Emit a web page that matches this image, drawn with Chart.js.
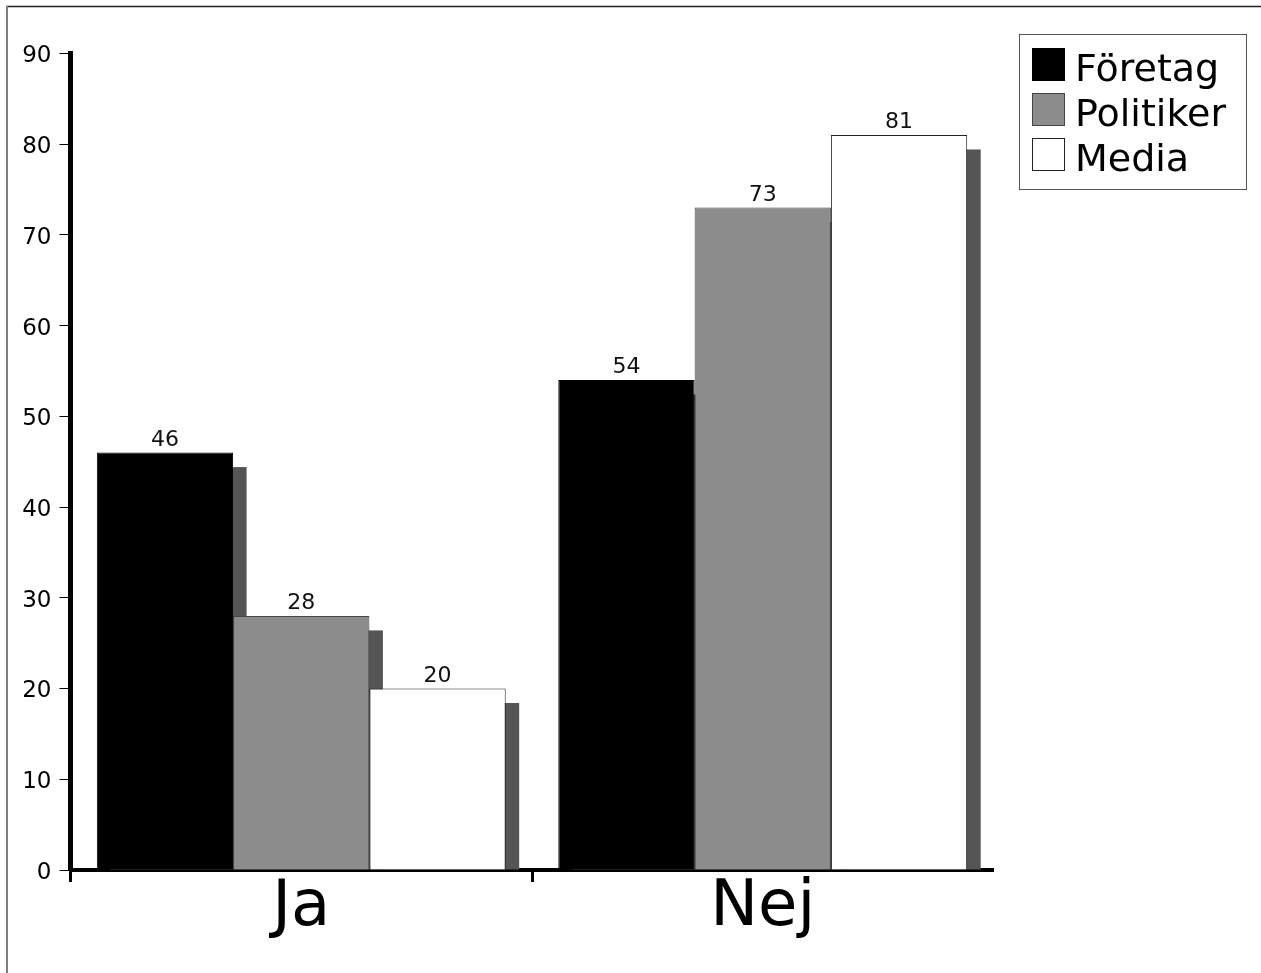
<!DOCTYPE html>
<html>
<head>
<meta charset="utf-8">
<script src="https://cdn.jsdelivr.net/npm/chart.js@4/dist/chart.umd.min.js"></script>
<style>
  html, body { margin: 0; padding: 0; background: #ffffff; overflow: hidden; }
  #wrap { position: relative; width: 1261px; height: 973px; }
  canvas { display: block; }
</style>
</head>
<body>
<div id="wrap"><canvas id="c" width="1261" height="973"></canvas></div>
<script>
// ---- data ----
const categories = ['Ja', 'Nej'];
const seriesNames = ['Företag', 'Politiker', 'Media'];
const foretagValues = [46, 54];
const politikerValues = [28, 73];
const mediaValues = [20, 81];
const yTickValues = [0, 10, 20, 30, 40, 50, 60, 70, 80, 90];

// ---- styles ----
const FONT = "'DejaVu Sans', 'Liberation Sans', sans-serif";
const fills = ['#000000', '#8c8c8c', '#ffffff'];
const borders = ['#000000', '#444444', '#222222'];
const SHADOW = '#555555';

const seriesValues = [foretagValues, politikerValues, mediaValues];

const shadowPlugin = {
  id: 'barShadow',
  beforeDatasetsDraw(chart) {
    const ctx = chart.ctx;
    ctx.save();
    ctx.fillStyle = SHADOW;
    chart.data.datasets.forEach((ds, di) => {
      const meta = chart.getDatasetMeta(di);
      meta.data.forEach(el => {
        const p = el.getProps(['x', 'y', 'base', 'width'], true);
        const dx = 13.5, dy = 14.5;
        const h = p.base - p.y - dy;
        if (h > 0) ctx.fillRect(p.x - p.width / 2 + dx, p.y + dy, p.width, h);
      });
    });
    ctx.restore();
  }
};

const valueLabelPlugin = {
  id: 'valueLabels',
  afterDatasetsDraw(chart) {
    const ctx = chart.ctx;
    ctx.save();
    ctx.font = '22px ' + FONT;
    ctx.fillStyle = '#111111';
    ctx.textAlign = 'center';
    ctx.textBaseline = 'alphabetic';
    chart.data.datasets.forEach((ds, di) => {
      const meta = chart.getDatasetMeta(di);
      meta.data.forEach((el, i) => {
        const p = el.getProps(['x', 'y'], true);
        ctx.fillText(String(ds.data[i]), p.x, p.y - 7);
      });
    });
    ctx.restore();
  }
};

const framePlugin = {
  id: 'frameAndLegend',
  afterDraw(chart) {
    const ctx = chart.ctx;
    ctx.save();
    // outer frame (top + left)
    ctx.strokeStyle = '#222222';
    ctx.lineWidth = 1.5;
    ctx.beginPath();
    ctx.moveTo(6, 6.5);
    ctx.lineTo(1261, 6.5);
    ctx.stroke();
    ctx.strokeStyle = '#808080';
    ctx.lineWidth = 2;
    ctx.beginPath();
    ctx.moveTo(7, 6);
    ctx.lineTo(7, 973);
    ctx.stroke();

    // legend box
    ctx.strokeStyle = '#555555';
    ctx.lineWidth = 1;
    ctx.strokeRect(1019.5, 34.5, 227, 155);
    ctx.font = '38px ' + FONT;
    ctx.textAlign = 'left';
    ctx.textBaseline = 'alphabetic';
    chart.data.datasets.forEach((ds, i) => {
      const top = 48 + i * 45;
      ctx.fillStyle = ds.backgroundColor;
      ctx.fillRect(1032, top, 33, 33);
      ctx.strokeStyle = ds.borderColor;
      ctx.lineWidth = 1;
      ctx.strokeRect(1032.5, top + 0.5, 32, 32);
      ctx.fillStyle = '#000000';
      ctx.fillText(ds.label, 1075, top + 33);
    });
    ctx.restore();
  }
};

new Chart(document.getElementById('c'), {
  type: 'bar',
  data: {
    labels: categories,
    datasets: seriesNames.map((name, i) => ({
      label: name,
      data: seriesValues[i],
      backgroundColor: fills[i],
      borderColor: borders[i],
      borderWidth: 1,
      categoryPercentage: 0.886,
      barPercentage: 1.0
    }))
  },
  options: {
    responsive: false,
    devicePixelRatio: 1,
    animation: false,
    layout: { padding: { left: 0, top: 53.3, right: 267.5, bottom: 0 } },
    plugins: {
      legend: { display: false },
      tooltip: { enabled: false },
      title: { display: false }
    },
    scales: {
      x: {
        offset: true,
        grid: {
          offset: true,
          drawOnChartArea: false,
          drawTicks: true,
          tickLength: 12,
          tickWidth: 3,
          tickColor: (c) => (c.type === 'tick' ? '#000000' : 'rgba(0,0,0,0)')
        },
        border: { display: true, color: '#000000', width: 4 },
        ticks: {
          color: '#000000',
          font: { family: FONT, size: 64, lineHeight: 1 },
          padding: -6,
          maxRotation: 0
        },
        afterFit(scale) { scale.height = 103; }
      },
      y: {
        min: 0,
        max: 90,
        afterBuildTicks(scale) { scale.ticks = yTickValues.map(v => ({ value: v })); },
        grid: {
          drawOnChartArea: false,
          drawTicks: true,
          tickLength: 11,
          tickWidth: 1,
          tickColor: '#000000'
        },
        border: { display: true, color: '#000000', width: 5 },
        ticks: {
          color: '#000000',
          font: { family: FONT, size: 23 },
          padding: 8,
          labelOffset: 3
        },
        afterFit(scale) { scale.width = 70.5; }
      }
    }
  },
  plugins: [shadowPlugin, valueLabelPlugin, framePlugin]
});
</script>
</body>
</html>
